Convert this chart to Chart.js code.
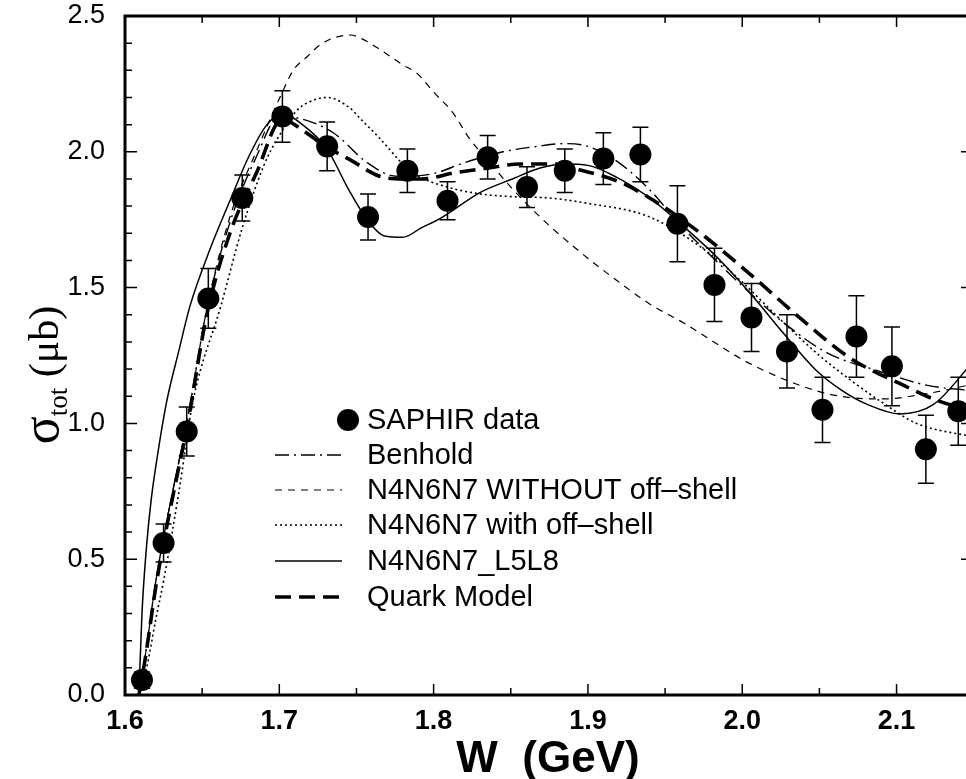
<!DOCTYPE html>
<html>
<head>
<meta charset="utf-8">
<script src="https://cdn.jsdelivr.net/npm/chart.js@4.4.1/dist/chart.umd.min.js"></script>
<style>
  html, body { margin: 0; padding: 0; background: #fff; }
  canvas { display: block; }
</style>
</head>
<body>
<canvas id="chart" width="966" height="779"></canvas>
<script>
// ---- SAPHIR data (W in GeV, sigma in microbarn) ----
const sapW   = [1.611, 1.625, 1.640, 1.654, 1.676, 1.702, 1.731, 1.7575, 1.783, 1.809, 1.835, 1.8605,
                1.885, 1.910, 1.934, 1.958, 1.982, 2.006, 2.029, 2.052, 2.074, 2.097, 2.119, 2.140];
const sapSig = [0.055, 0.56, 0.97, 1.46, 1.83, 2.13, 2.02, 1.76, 1.93, 1.82, 1.98, 1.87,
                1.93, 1.975, 1.99, 1.735, 1.51, 1.39, 1.265, 1.05, 1.32, 1.21, 0.905, 1.045];
const sapErr = [0.03, 0.07, 0.09, 0.11, 0.085, 0.095, 0.09, 0.085, 0.08, 0.07, 0.08, 0.075,
                0.08, 0.095, 0.10, 0.14, 0.135, 0.125, 0.135, 0.12, 0.15, 0.145, 0.125, 0.125];

// ---- model curves ----
const benW   = [1.609, 1.613, 1.62, 1.625, 1.632, 1.64, 1.653, 1.668, 1.685, 1.70, 1.715, 1.735, 1.757, 1.776,
                1.80, 1.82, 1.845, 1.867, 1.884, 1.90, 1.92, 1.94, 1.96, 1.981, 2.005, 2.027, 2.055, 2.09, 2.12, 2.15];
const benSig = [0, 0.14, 0.42, 0.58, 0.78, 1.0, 1.42, 1.74, 1.98, 2.13, 2.12, 2.07, 1.96, 1.91,
                1.92, 1.96, 2.0, 2.02, 2.03, 2.02, 1.96, 1.86, 1.73, 1.61, 1.48, 1.37, 1.26, 1.19, 1.14, 1.12];

const noOffW   = [1.609, 1.613, 1.62, 1.625, 1.632, 1.64, 1.653, 1.668, 1.685, 1.702, 1.709, 1.718, 1.728, 1.746,
                  1.754, 1.767, 1.78, 1.789, 1.80, 1.813, 1.823, 1.835, 1.85, 1.869, 1.893, 1.919, 1.94, 1.962,
                  2.005, 2.048, 2.07, 2.091, 2.12, 2.15];
const noOffSig = [0, 0.14, 0.42, 0.58, 0.78, 1.0, 1.42, 1.76, 2.0, 2.22, 2.30, 2.35, 2.40, 2.43,
                  2.415, 2.37, 2.32, 2.29, 2.22, 2.14, 2.05, 1.97, 1.87, 1.76, 1.64, 1.525, 1.44, 1.37,
                  1.22, 1.12, 1.095, 1.09, 1.11, 1.145];

const offW   = [1.609, 1.614, 1.62, 1.625, 1.635, 1.644, 1.662, 1.676, 1.69, 1.70, 1.711, 1.718, 1.731, 1.746,
                1.752, 1.765, 1.78, 1.787, 1.809, 1.83, 1.851, 1.875, 1.9, 1.94, 1.979, 2.0, 2.027, 2.05, 2.07,
                2.09, 2.113, 2.15];
const offSig = [0, 0.1, 0.28, 0.42, 0.75, 1.08, 1.43, 1.72, 1.95, 2.06, 2.15, 2.18, 2.20, 2.16,
                2.125, 2.05, 1.955, 1.92, 1.87, 1.845, 1.835, 1.83, 1.81, 1.76, 1.625, 1.52, 1.37, 1.25, 1.16,
                1.08, 1.0, 0.95];

const l5l8W   = [1.609, 1.611, 1.614, 1.617, 1.621, 1.627, 1.635, 1.642, 1.655, 1.668, 1.68, 1.692, 1.702, 1.715,
                 1.731, 1.745, 1.757, 1.768, 1.78, 1.792, 1.805, 1.83, 1.851, 1.869, 1.885, 1.9, 1.919, 1.94,
                 1.958, 1.984, 2.005, 2.027, 2.048, 2.065, 2.081, 2.102, 2.124, 2.15];
const l5l8Sig = [0, 0.3, 0.55, 0.72, 0.88, 1.08, 1.27, 1.43, 1.64, 1.82, 1.98, 2.1, 2.14, 2.1,
                 2.01, 1.86, 1.75, 1.69, 1.685, 1.72, 1.757, 1.85, 1.90, 1.94, 1.955, 1.95, 1.905, 1.83,
                 1.745, 1.61, 1.48, 1.33, 1.195, 1.12, 1.07, 1.035, 1.07, 1.23];

const quarkW   = [1.609, 1.613, 1.62, 1.625, 1.632, 1.64, 1.653, 1.668, 1.685, 1.702, 1.715, 1.73, 1.746, 1.765,
                  1.78, 1.792, 1.814, 1.835, 1.856, 1.877, 1.897, 1.92, 1.94, 1.973, 2.005, 2.037, 2.07, 2.102,
                  2.126, 2.15];
const quarkSig = [0, 0.13, 0.40, 0.56, 0.76, 0.98, 1.40, 1.70, 1.92, 2.12, 2.08, 2.02, 1.97, 1.91,
                  1.90, 1.90, 1.923, 1.94, 1.955, 1.955, 1.93, 1.89, 1.83, 1.70, 1.55, 1.39, 1.24, 1.147,
                  1.085, 1.045];

const legendLabels = ['SAPHIR data', 'Benhold', 'N4N6N7 WITHOUT off\u2013shell',
                      'N4N6N7 with off\u2013shell', 'N4N6N7_L5L8', 'Quark Model'];

const pts = (ws, ss) => ws.map((w, i) => ({ x: w, y: ss[i] }));

function curve(ws, ss, width, dash) {
  return {
    data: pts(ws, ss),
    showLine: true,
    pointRadius: 0,
    borderColor: '#000',
    borderWidth: width,
    borderDash: dash,
    cubicInterpolationMode: 'monotone',
    fill: false
  };
}

const lineStyles = [
  null,
  { w: 1.4, dash: [14, 5, 2, 5] },
  { w: 1.2, dash: [7, 6] },
  { w: 1.6, dash: [2, 3] },
  { w: 1.5, dash: [] },
  { w: 3.6, dash: [16, 8] }
];

// ---- frame, inward ticks, error bars, legend, titles ----
const decorations = {
  id: 'decorations',
  beforeDatasetsDraw(chart) {
    const { ctx, scales: { x, y } } = chart;
    ctx.save();
    ctx.strokeStyle = '#000';
    ctx.lineWidth = 1.5;
    sapW.forEach((w, i) => {
      const px = x.getPixelForValue(w);
      const top = y.getPixelForValue(sapSig[i] + sapErr[i]);
      const bot = y.getPixelForValue(sapSig[i] - sapErr[i]);
      ctx.beginPath();
      ctx.moveTo(px, top); ctx.lineTo(px, bot);
      ctx.moveTo(px - 8, top); ctx.lineTo(px + 8, top);
      ctx.moveTo(px - 8, bot); ctx.lineTo(px + 8, bot);
      ctx.stroke();
    });
    ctx.restore();
  },
  afterDraw(chart) {
    const { ctx, chartArea: a, scales: { x, y } } = chart;
    ctx.save();
    ctx.strokeStyle = '#000';

    // frame (the right side of the box lies just outside the picture)
    ctx.lineWidth = 3;
    ctx.beginPath();
    ctx.moveTo(a.right, a.top); ctx.lineTo(a.left, a.top);
    ctx.lineTo(a.left, a.bottom); ctx.lineTo(a.right, a.bottom);
    ctx.stroke();

    // inward ticks
    ctx.lineWidth = 1.5;
    ctx.beginPath();
    for (let i = 1; 1.6 + i * 0.05 < x.max; i++) {
      const px = x.getPixelForValue(1.6 + i * 0.05);
      const len = i % 2 === 0 ? 11 : 7;
      ctx.moveTo(px, a.bottom); ctx.lineTo(px, a.bottom - len);
      ctx.moveTo(px, a.top); ctx.lineTo(px, a.top + len);
    }
    for (let i = 1; i < 25; i++) {
      const py = y.getPixelForValue(i * 0.1);
      const len = i % 5 === 0 ? 12 : 7;
      ctx.moveTo(a.left, py); ctx.lineTo(a.left + len, py);
      if (i % 5 === 0) { ctx.moveTo(a.right, py); ctx.lineTo(a.right - 5, py); }
    }
    ctx.stroke();

    // legend
    const lx0 = 275, lx1 = 342, tx = 367;
    const rows = [420, 455, 490, 525, 561, 597];
    ctx.fillStyle = '#000';
    ctx.font = '29px "Liberation Sans", Arial, sans-serif';
    ctx.textBaseline = 'middle';
    ctx.textAlign = 'left';
    legendLabels.forEach((lab, i) => {
      const ry = rows[i];
      if (i === 0) {
        ctx.beginPath();
        ctx.arc(348, ry, 11, 0, Math.PI * 2);
        ctx.fill();
      } else {
        const st = lineStyles[i];
        ctx.save();
        ctx.lineWidth = st.w;
        ctx.setLineDash(st.dash);
        ctx.beginPath();
        ctx.moveTo(lx0, ry); ctx.lineTo(lx1, ry);
        ctx.stroke();
        ctx.restore();
      }
      ctx.fillText(lab, tx, ry + 1);
    });

    // x title
    ctx.font = 'bold 44px "Liberation Sans", Arial, sans-serif';
    ctx.textAlign = 'center';
    ctx.textBaseline = 'alphabetic';
    ctx.fillText('W  (GeV)', 548, 772);

    // y title: sigma_tot (mu b), rotated
    ctx.translate(46, 375);
    ctx.rotate(-Math.PI / 2);
    ctx.textAlign = 'left';
    const big = '52px "Liberation Serif", "Times New Roman", serif';
    const sub = '27px "Liberation Serif", "Times New Roman", serif';
    const unit = '42px "Liberation Serif", "Times New Roman", serif';
    ctx.font = big; const wS = ctx.measureText('\u03c3').width;
    ctx.font = sub; const wT = ctx.measureText('tot').width;
    ctx.font = unit; const wU = ctx.measureText(' (\u03bcb)').width;
    let cx = -(wS + wT + wU) / 2;
    ctx.font = big; ctx.fillText('\u03c3', cx, 12); cx += wS;
    ctx.font = sub; ctx.fillText('tot', cx, 21); cx += wT;
    ctx.font = unit; ctx.fillText(' (\u03bcb)', cx, 12);
    ctx.restore();
  }
};

new Chart(document.getElementById('chart'), {
  type: 'scatter',
  data: {
    datasets: [
      curve(benW, benSig, lineStyles[1].w, lineStyles[1].dash),
      curve(noOffW, noOffSig, lineStyles[2].w, lineStyles[2].dash),
      curve(offW, offSig, lineStyles[3].w, lineStyles[3].dash),
      curve(l5l8W, l5l8Sig, lineStyles[4].w, lineStyles[4].dash),
      curve(quarkW, quarkSig, lineStyles[5].w, lineStyles[5].dash),
      {
        data: pts(sapW, sapSig),
        pointRadius: 11,
        pointHoverRadius: 11,
        backgroundColor: '#000',
        borderColor: '#000',
        borderWidth: 0
      }
    ]
  },
  options: {
    responsive: false,
    animation: false,
    layout: { autoPadding: false, padding: { top: 16, right: 0, left: 0, bottom: 0 } },
    plugins: { legend: { display: false }, tooltip: { enabled: false } },
    scales: {
      x: {
        type: 'linear',
        min: 1.6,
        max: 2.145,
        afterFit: s => { s.height = 84; s.paddingLeft = 0; s.paddingRight = 0; },
        grid: { display: false, drawTicks: false },
        border: { display: false },
        ticks: {
          stepSize: 0.1,
          includeBounds: false,
          padding: 10,
          color: '#000',
          font: { family: '"Liberation Sans", Arial, sans-serif', size: 27, weight: 'bold' },
          callback: v => v.toFixed(1)
        }
      },
      y: {
        min: 0,
        max: 2.5,
        afterFit: s => { s.width = 125; s.paddingTop = 0; s.paddingBottom = 0; },
        grid: { display: false, drawTicks: false },
        border: { display: false },
        ticks: {
          stepSize: 0.5,
          padding: 20,
          color: '#000',
          font: { family: '"Liberation Sans", Arial, sans-serif', size: 27 },
          callback: v => v.toFixed(1)
        }
      }
    }
  },
  plugins: [decorations]
});
</script>
</body>
</html>
